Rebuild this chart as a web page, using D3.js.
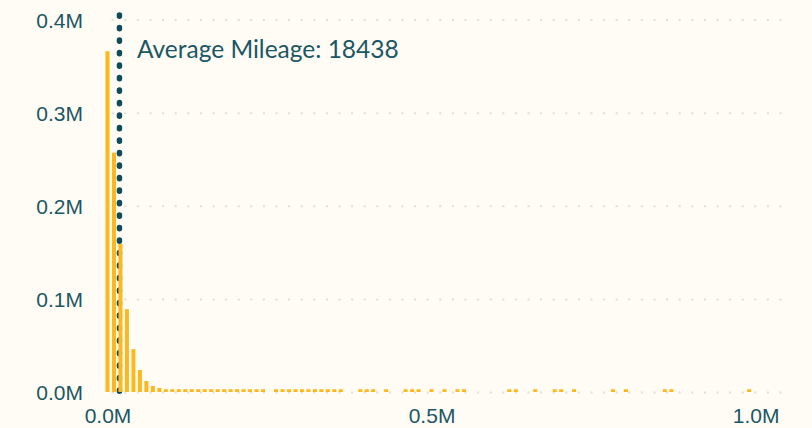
<!DOCTYPE html>
<meta charset="utf-8">
<style>
body { margin: 0; background: #fffcf5; }
svg { display: block; font-family: "Lato", "Noto Sans", sans-serif; }
.bar { fill: #ffb81c; }
.avg-line { stroke: #0f4b59; stroke-width: 5.5; stroke-linecap: round; stroke-dasharray: 1.2 11.3; }
.grid line { stroke: #e2ded6; stroke-width: 2; stroke-dasharray: 2 10.6; }
.grid path { stroke-width: 0; }
.axis text { fill: #1b5764; font-size: 21px; }
.axis path, .axis line { display: none; }
.avg-label { fill: #1b5764; font-size: 24.5px; }
</style>
<svg width="812" height="428"></svg>
<script src="https://d3js.org/d3.v7.min.js"></script>
<script>

// histogram bins (start mileage, bin width 10000) and number of cars
var mileageBins = [0, 10000, 20000, 30000, 40000, 50000, 60000, 70000, 80000,
  90000, 100000, 110000, 120000, 130000, 140000, 150000, 160000, 170000, 180000,
  190000, 200000, 210000, 220000, 230000, 240000,
  260000, 270000, 280000, 290000, 300000, 310000, 320000, 330000, 340000, 350000, 360000,
  390000, 400000, 410000, 430000, 460000, 470000, 480000, 500000, 520000, 540000, 550000,
  620000, 630000, 660000, 690000, 700000, 720000, 780000, 800000, 860000, 870000, 990000];
var carCounts = [366000, 257000, 159000, 89000, 46000, 23600, 11800, 6400, 4300,
  3000, 3000, 3000, 3000, 3000, 3000, 3000, 3000, 3000, 3000,
  3000, 3000, 3000, 3000, 3000, 3000,
  3000, 3000, 3000, 3000, 3000, 3000, 3000, 3000, 3000, 3000, 3000,
  3000, 3000, 3000, 3000, 3000, 3000, 3000, 3000, 3000, 3000, 3000,
  3000, 3000, 3000, 3000, 3000, 3000, 3000, 3000, 3000, 3000, 3000];
var binSize = 10000;
var averageMileage = 18438;
var yTicks = [0, 100000, 200000, 300000, 400000];
var xTicks = [0, 500000, 1000000];

var svg = d3.select("svg"),
    width = +svg.attr("width"),
    height = +svg.attr("height");

var x = d3.scaleLinear().domain([0, 1040000]).range([107.5, 781.5]);
var y = d3.scaleLinear().domain([0, 400000]).range([392, 19.5]);
var plotTop = 12;

var fmt = function(d) { return (d / 1e6).toFixed(1) + "M"; };

// dotted gridlines
svg.append("g")
    .attr("class", "grid")
    .attr("transform", "translate(" + (x.range()[1]) + ",0)")
    .call(d3.axisLeft(y).tickValues(yTicks).tickSize(x.range()[1] - x.range()[0] + 1.5).tickFormat(""));

// y axis labels
svg.append("g")
    .attr("class", "axis")
    .attr("transform", "translate(" + x.range()[0] + ",0)")
    .call(d3.axisLeft(y).tickValues(yTicks).tickFormat(fmt).tickSize(0).tickPadding(24.5))
  .selectAll("text")
    .attr("dy", "0.36em");

// x axis labels
svg.append("g")
    .attr("class", "axis")
    .attr("transform", "translate(0," + y(0) + ")")
    .call(d3.axisBottom(x).tickValues(xTicks).tickFormat(fmt).tickSize(0).tickPadding(16))
  .selectAll("text")
    .attr("dy", "0.71em");

// average line, under the bars
svg.append("line")
    .attr("class", "avg-line")
    .attr("x1", x(averageMileage))
    .attr("x2", x(averageMileage))
    .attr("y1", plotTop + 3)
    .attr("y2", y(0));

svg.append("text")
    .attr("class", "avg-label")
    .attr("x", x(averageMileage) + 17.5)
    .attr("y", 58)
    .text("Average Mileage: " + averageMileage);

var data = mileageBins.map(function(d, i) { return { bin: d, count: carCounts[i] }; });
var barW = (x(binSize) - x(0)) * 0.62;

svg.selectAll(".bar")
  .data(data)
  .enter().append("rect")
    .attr("class", "bar")
    .attr("x", function(d) { return x(d.bin) - barW / 2; })
    .attr("width", barW)
    .attr("y", function(d) { return y(d.count); })
    .attr("height", function(d) { return y(0) - y(d.count); });

</script>
